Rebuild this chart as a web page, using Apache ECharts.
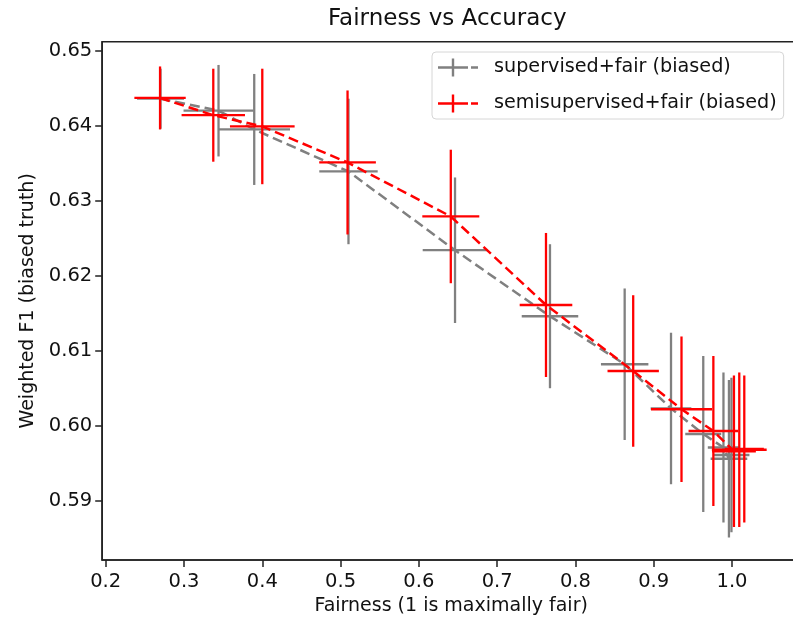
<!DOCTYPE html>
<html>
<head>
<meta charset="utf-8">
<script src="https://cdn.jsdelivr.net/npm/echarts@6/dist/echarts.min.js"></script>
<style>
html,body{margin:0;padding:0;background:#fff;overflow:hidden;}
#chart{width:801px;height:621px;}
</style>
</head>
<body>
<div id="chart"></div>
<script>
// ---- data ----
var supName = 'supervised+fair (biased)';
var semiName = 'semisupervised+fair (biased)';

var supFairness = [0.2700, 0.3441, 0.3897, 0.5101, 0.6462, 0.7675, 0.8629, 0.9221, 0.9633, 0.9891, 0.9961, 0.9993];
var supF1       = [0.6436, 0.6420, 0.6395, 0.6339, 0.6234, 0.6146, 0.6082, 0.6023, 0.5989, 0.5971, 0.5956, 0.5961];
var supFairErr  = [0.030, 0.0447, 0.0457, 0.0373, 0.0413, 0.0361, 0.0303, 0.026, 0.023, 0.020, 0.0234, 0.023];
var supF1Err    = [0.0040, 0.0061, 0.0074, 0.0097, 0.0097, 0.0096, 0.0101, 0.0101, 0.0104, 0.0100, 0.0105, 0.0103];

var semiFairness = [0.2694, 0.3374, 0.4000, 0.5089, 0.6408, 0.7624, 0.8738, 0.9355, 0.9762, 1.0025, 1.0093, 1.0157];
var semiF1       = [0.6437, 0.6414, 0.6399, 0.6351, 0.6279, 0.6161, 0.6073, 0.6022, 0.5993, 0.5966, 0.5968, 0.5969];
var semiFairErr  = [0.0328, 0.0405, 0.0413, 0.0362, 0.0364, 0.0336, 0.0328, 0.0390, 0.0317, 0.028, 0.035, 0.025];
var semiF1Err    = [0.0042, 0.0062, 0.0077, 0.0096, 0.0089, 0.0096, 0.0101, 0.0097, 0.0100, 0.0101, 0.0103, 0.0098];

var xTicks = [0.2, 0.3, 0.4, 0.5, 0.6, 0.7, 0.8, 0.9, 1.0];
var yTicks = [0.59, 0.60, 0.61, 0.62, 0.63, 0.64, 0.65];

var grayColor = '#808080';
var redColor = '#ff0000';

function linePts(xs, ys) {
  return xs.map(function (x, i) { return [x, ys[i]]; });
}
function errPts(xs, ys, xe, ye) {
  return xs.map(function (x, i) { return [x, ys[i], xe[i], ye[i]]; });
}
function errRender(color) {
  return function (params, api) {
    var x = api.value(0), y = api.value(1), xe = api.value(2), ye = api.value(3);
    var l = api.coord([x - xe, y]), r = api.coord([x + xe, y]);
    var t = api.coord([x, y + ye]), b = api.coord([x, y - ye]);
    var st = { stroke: color, lineWidth: 2.3, fill: null };
    return {
      type: 'group',
      children: [
        { type: 'line', shape: { x1: l[0], y1: l[1], x2: r[0], y2: r[1] }, style: st },
        { type: 'line', shape: { x1: t[0], y1: t[1], x2: b[0], y2: b[1] }, style: st }
      ]
    };
  };
}

var iconPath = 'path://M0,7.8h30v2.4h-30z M13.8,0h2.4v18h-2.4z M33,7.8h7v2.4h-7z';
var font = 'DejaVu Sans';

var chart = echarts.init(document.getElementById('chart'), null, { renderer: 'canvas' });
chart.setOption({
  backgroundColor: '#ffffff',
  animation: false,
  title: {
    text: 'Fairness vs Accuracy',
    left: 323,
    top: 3,
    padding: 5,
    textStyle: { fontFamily: font, fontSize: 23, fontWeight: 'normal', color: '#111' }
  },
  legend: {
    orient: 'vertical',
    left: 432,
    top: 52,
    padding: [6, 7, 6, 6],
    itemGap: 17,
    itemWidth: 40,
    itemHeight: 18,
    borderColor: '#d6d6d6',
    borderWidth: 1,
    borderRadius: 4,
    backgroundColor: 'rgba(255,255,255,0.8)',
    textStyle: { fontFamily: font, fontSize: 19.2, color: '#111', lineHeight: 18, padding: [0, 0, 0, 11] },
    data: [
      { name: supName, icon: iconPath, itemStyle: { color: grayColor } },
      { name: semiName, icon: iconPath, itemStyle: { color: redColor } }
    ]
  },
  grid: {
    left: 102.2,
    top: 41.7,
    right: 0.9,
    bottom: 61,
    show: true,
    borderColor: '#222',
    borderWidth: 1.5,
    containLabel: false
  },
  xAxis: {
    type: 'value',
    min: 0.1955,
    max: 1.087,
    name: 'Fairness (1 is maximally fair)',
    nameLocation: 'middle',
    nameGap: 36,
    nameTextStyle: { fontFamily: font, fontSize: 19, color: '#111' },
    axisLine: { show: true, lineStyle: { color: '#222', width: 1.5 } },
    axisTick: { show: true, length: 7, lineStyle: { color: '#222', width: 1.5 }, customValues: xTicks },
    axisLabel: {
      margin: 12, fontFamily: font, fontSize: 19.5, color: '#111',
      customValues: xTicks,
      formatter: function (v) { return v.toFixed(1); }
    },
    splitLine: { show: false }
  },
  yAxis: {
    type: 'value',
    min: 0.5821,
    max: 0.6512,
    name: 'Weighted F1 (biased truth)',
    nameLocation: 'middle',
    nameGap: 63,
    nameTextStyle: { fontFamily: font, fontSize: 19, color: '#111' },
    axisLine: { show: true, lineStyle: { color: '#222', width: 1.5 } },
    axisTick: { show: true, length: 7, lineStyle: { color: '#222', width: 1.5 }, customValues: yTicks },
    axisLabel: {
      margin: 10, fontFamily: font, fontSize: 19.5, color: '#111',
      customValues: yTicks,
      formatter: function (v) { return v.toFixed(2); }
    },
    splitLine: { show: false }
  },
  series: [
    {
      name: 'sup-line',
      type: 'line',
      data: linePts(supFairness, supF1),
      symbol: 'none',
      lineStyle: { color: grayColor, width: 2.5, type: [10, 5] },
      itemStyle: { color: grayColor },
      z: 2
    },
    {
      name: supName,
      type: 'custom',
      data: errPts(supFairness, supF1, supFairErr, supF1Err),
      encode: { x: 0, y: 1 },
      renderItem: errRender(grayColor),
      itemStyle: { color: grayColor },
      z: 2
    },
    {
      name: 'semi-line',
      type: 'line',
      data: linePts(semiFairness, semiF1),
      symbol: 'none',
      lineStyle: { color: redColor, width: 2.5, type: [10, 5] },
      itemStyle: { color: redColor },
      z: 3
    },
    {
      name: semiName,
      type: 'custom',
      data: errPts(semiFairness, semiF1, semiFairErr, semiF1Err),
      encode: { x: 0, y: 1 },
      renderItem: errRender(redColor),
      itemStyle: { color: redColor },
      z: 3
    }
  ]
});
</script>
</body>
</html>
